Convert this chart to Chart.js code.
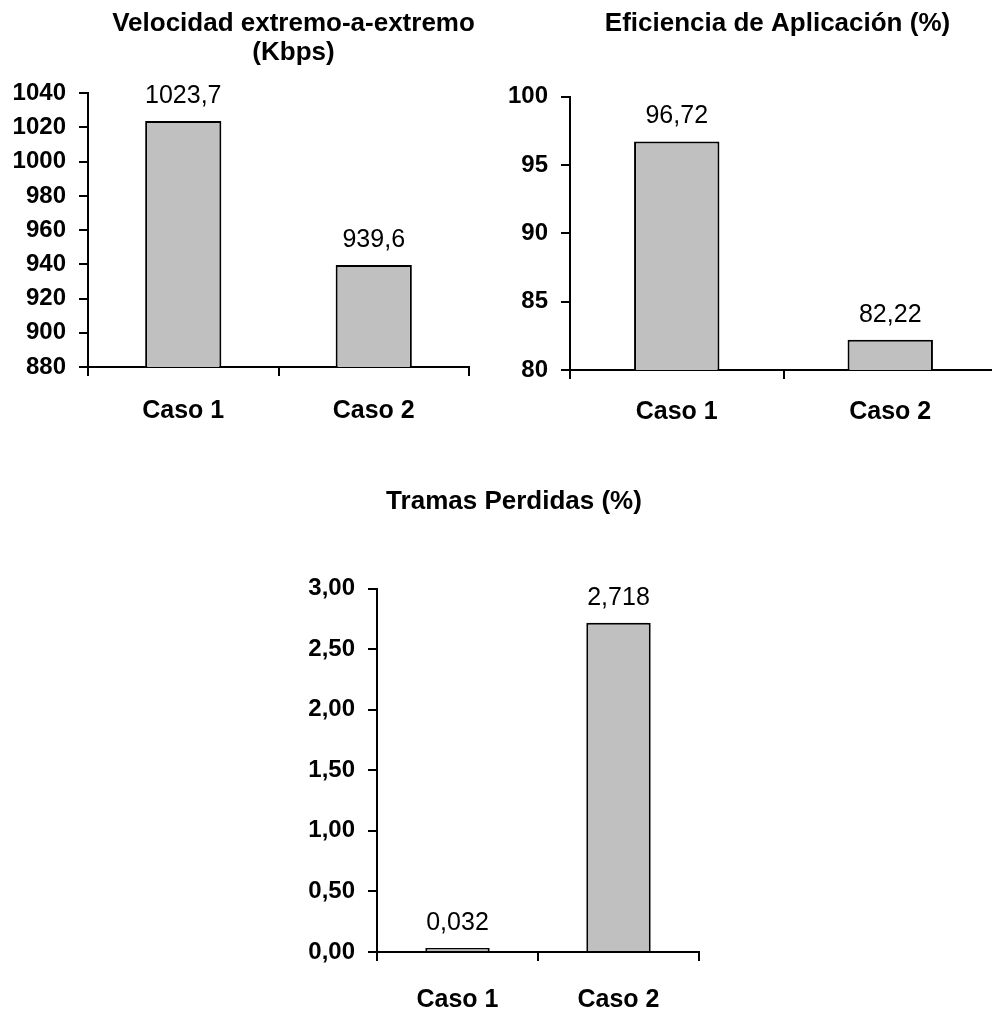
<!DOCTYPE html>
<html lang="es">
<head>
<meta charset="utf-8">
<title>Velocidad, eficiencia y tramas perdidas</title>
<script src="https://cdn.jsdelivr.net/npm/chart.js@4/dist/chart.umd.min.js"></script>
<style>
  html, body { margin: 0; padding: 0; background: #fff; overflow: hidden; }
  #page { position: relative; width: 992px; height: 1010px; overflow: hidden; }
  canvas { position: absolute; }
</style>
</head>
<body>
<div id="page">
  <canvas id="velocidad" width="587" height="430" style="left:0px;top:0px;"></canvas>
  <canvas id="eficiencia" width="575" height="430" style="left:490px;top:0px;"></canvas>
  <canvas id="tramas" width="448" height="540" style="left:290px;top:470px;"></canvas>
</div>
<script>
// Casos comparados
const categories = ['Caso 1', 'Caso 2'];

// Valores medidos por caso
const velocidadKbps = [1023.7, 939.6];
const eficienciaPct = [96.72, 82.22];
const tramasPerdidasPct = [0.032, 2.718];

// Escalas del eje Y: [mínimo, máximo, paso]
const velocidadAxis = [880, 1040, 20];
const eficienciaAxis = [80, 100, 5];
const tramasAxis = [0, 3, 0.5];

const FONT = '"Liberation Sans", Arial, Helvetica, sans-serif';
const BLACK = '#000000';
const BAR_FILL = '#C0C0C0';

const decimalComma = v => String(v).replace('.', ',');

// Etiqueta con el valor encima de cada barra
const valueLabels = {
  id: 'valueLabels',
  afterDatasetsDraw(chart) {
    const ctx = chart.ctx;
    const ds = chart.data.datasets[0];
    const meta = chart.getDatasetMeta(0);
    ctx.save();
    ctx.font = '25px ' + FONT;
    ctx.fillStyle = BLACK;
    ctx.textAlign = 'center';
    ctx.textBaseline = 'alphabetic';
    meta.data.forEach((bar, i) => {
      ctx.fillText(decimalComma(ds.data[i]), bar.x, bar.y - 18);
    });
    ctx.restore();
  }
};

function makeChart(id, cfg) {
  const [yMin, yMax, yStep] = cfg.axis;
  return new Chart(document.getElementById(id), {
    type: 'bar',
    data: {
      labels: categories,
      datasets: [{
        data: cfg.values,
        backgroundColor: BAR_FILL,
        borderColor: BLACK,
        borderWidth: 2,
        borderSkipped: 'bottom',
        barPercentage: 0.4,
        categoryPercentage: 1.0
      }]
    },
    options: {
      responsive: false,
      animation: false,
      devicePixelRatio: 1,
      layout: { padding: 0 },
      plugins: {
        legend: { display: false },
        tooltip: { enabled: false },
        title: {
          display: true,
          text: cfg.title,
          color: BLACK,
          font: { family: FONT, size: 26, weight: 'bold', lineHeight: 1.1 },
          padding: cfg.titlePadding
        }
      },
      scales: {
        x: {
          grid: {
            display: true,
            offset: true,
            drawOnChartArea: false,
            color: BLACK,
            lineWidth: 2,
            tickLength: 9
          },
          border: { display: true, color: BLACK, width: 2 },
          ticks: {
            color: BLACK,
            padding: cfg.xPad,
            font: { family: FONT, size: 25, weight: 'bold' }
          },
          afterFit(scale) { scale.height = cfg.xHeight; }
        },
        y: {
          min: yMin,
          max: yMax,
          grid: {
            display: true,
            drawOnChartArea: false,
            color: BLACK,
            lineWidth: 2,
            tickLength: 9
          },
          border: { display: true, color: BLACK, width: 2 },
          ticks: {
            stepSize: yStep,
            color: BLACK,
            padding: 13,
            font: { family: FONT, size: 24, weight: 'bold' },
            callback: cfg.tickFormat
          },
          afterFit(scale) { scale.width = cfg.yWidth; }
        },
        // Margen derecho del área de trazado (sin marcas)
        margin: {
          type: 'linear',
          position: 'right',
          display: true,
          grid: { display: false },
          border: { display: false },
          ticks: { display: false },
          afterFit(scale) { scale.width = cfg.rightMargin; }
        }
      }
    },
    plugins: [valueLabels]
  });
}

makeChart('velocidad', {
  title: ['Velocidad extremo-a-extremo', '(Kbps)'],
  values: velocidadKbps,
  axis: velocidadAxis,
  tickFormat: v => String(v),
  titlePadding: { top: 10, bottom: 26 },
  yWidth: 88,
  rightMargin: 118,
  xHeight: 63,
  xPad: 20
});

makeChart('eficiencia', {
  title: 'Eficiencia de Aplicación (%)',
  values: eficienciaPct,
  axis: eficienciaAxis,
  tickFormat: v => String(v),
  titlePadding: { top: 10, bottom: 58 },
  yWidth: 80,
  rightMargin: 68,
  xHeight: 60,
  xPad: 18
});

makeChart('tramas', {
  title: 'Tramas Perdidas (%)',
  values: tramasPerdidasPct,
  axis: tramasAxis,
  tickFormat: v => Number(v).toFixed(2).replace('.', ','),
  titlePadding: { top: 18, bottom: 72 },
  yWidth: 87,
  rightMargin: 39,
  xHeight: 58,
  xPad: 24
});
</script>
</body>
</html>
